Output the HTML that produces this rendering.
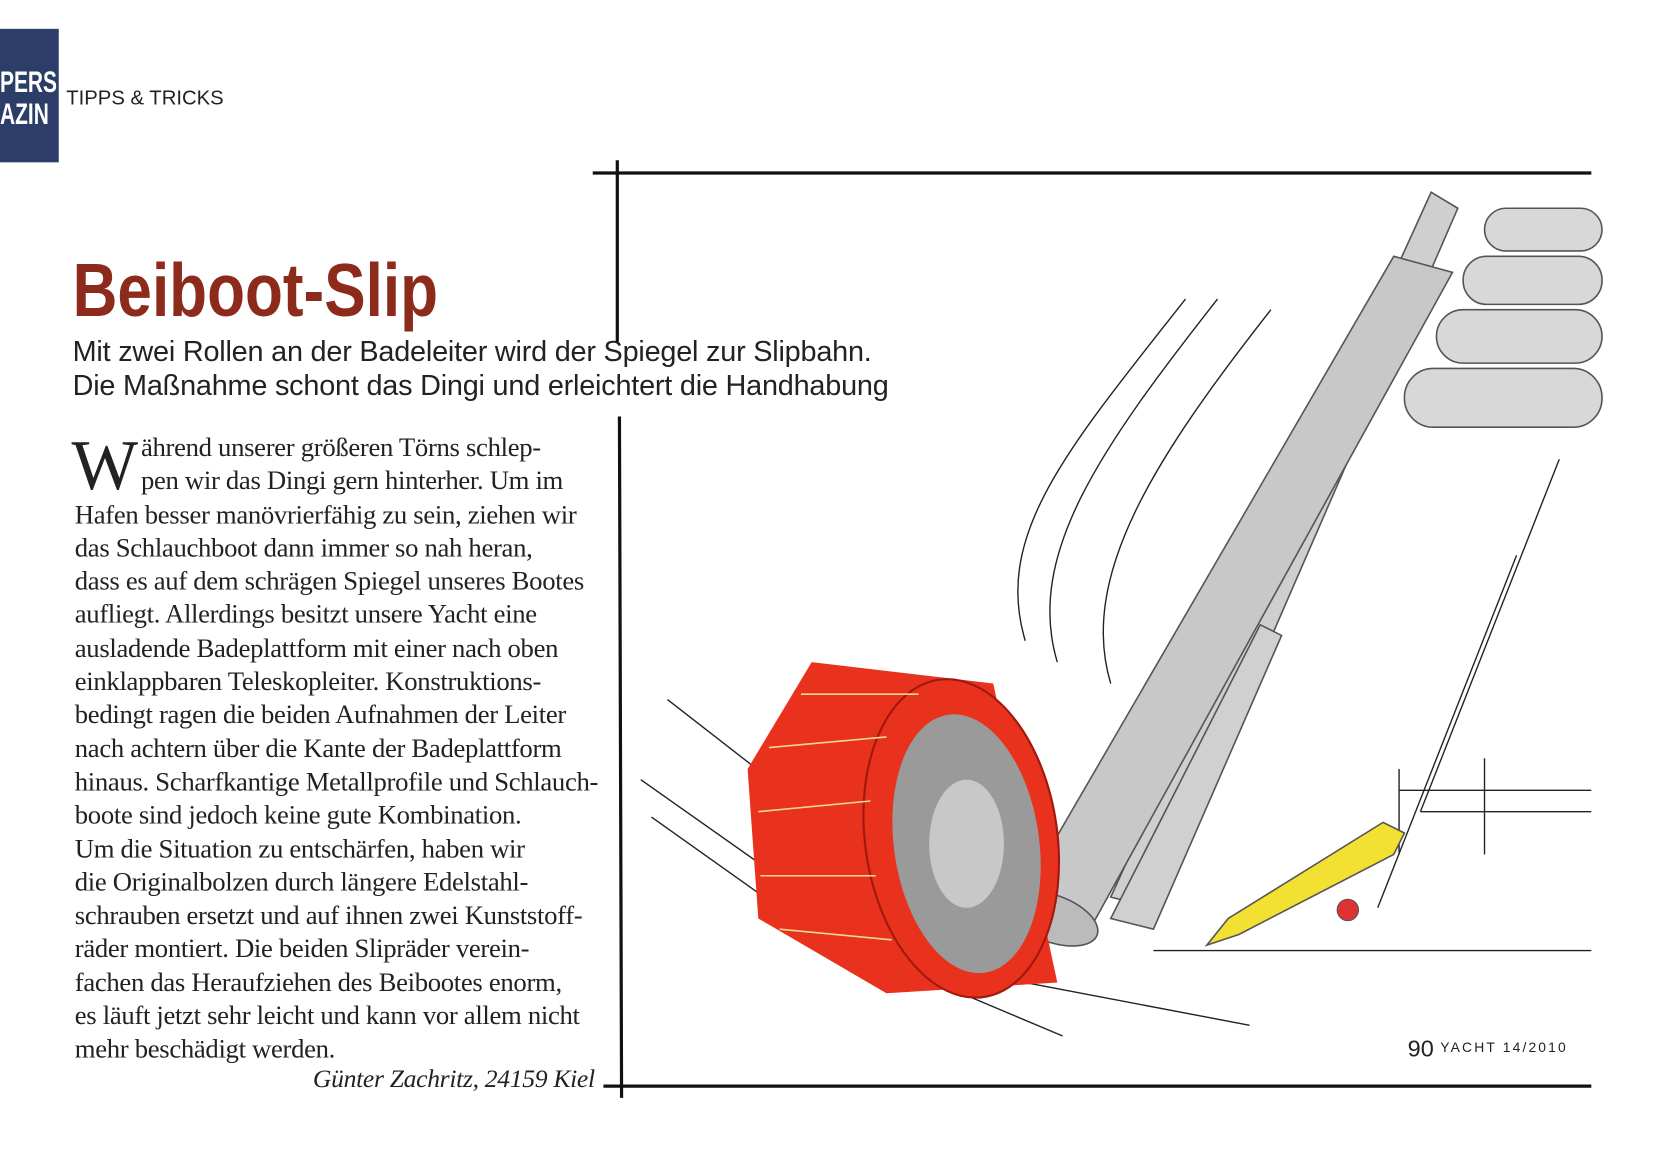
<!DOCTYPE html>
<html><head><meta charset="utf-8"><style>
body{margin:0;width:1674px;height:1175px;overflow:hidden;background:#fff}
#w{position:absolute;left:0;top:0;width:1568px;height:1100px;transform:scale(1.068,1.068);transform-origin:0 0}
.a{position:absolute;white-space:nowrap}
.body{font-family:"Liberation Serif",serif;font-size:25px;color:#222;line-height:31.3px;letter-spacing:-0.3px}
</style></head><body><div id="w">
<div class="a" style="left:0;top:27px;width:55px;height:125px;background:#2c3d68"></div>
<div class="a" style="left:0;top:62px;font:bold 28px/30px 'Liberation Sans Narrow','Liberation Sans',sans-serif;color:#fff;transform:scaleX(.7);transform-origin:0 0">PERS<br>AZIN</div>
<div class="a" style="left:62px;top:82px;font:19px 'Liberation Sans',sans-serif;color:#222">TIPPS &amp; TRICKS</div>
<div class="a" style="left:68px;top:232px;font:bold 70px 'Liberation Sans Narrow','Liberation Sans',sans-serif;color:#8c2a1c;transform:scaleX(.83);transform-origin:0 0">Beiboot-Slip</div>
<div class="a" style="left:68px;top:313px;font:27px/32px 'Liberation Sans',sans-serif;color:#222;letter-spacing:-0.2px">Mit zwei Rollen an der Badeleiter wird der Spiegel zur Slipbahn.<br>Die Maßnahme schont das Dingi und erleichtert die Handhabung</div>
<div class="a" style="left:67px;top:404px;font:66px/66px 'Liberation Serif',serif;color:#222">W</div>
<div class="a body" style="left:70px;top:404px">
<span style="margin-left:62px">ährend unserer größeren Törns schlep-</span><br><span style="margin-left:62px">pen wir das Dingi gern hinterher. Um im</span><br>Hafen besser manövrierfähig zu sein, ziehen wir<br>das Schlauchboot dann immer so nah heran,<br>dass es auf dem schrägen Spiegel unseres Bootes<br>aufliegt. Allerdings besitzt unsere Yacht eine<br>ausladende Badeplattform mit einer nach oben<br>einklappbaren Teleskopleiter. Konstruktions-<br>bedingt ragen die beiden Aufnahmen der Leiter<br>nach achtern über die Kante der Badeplattform<br>hinaus. Scharfkantige Metallprofile und Schlauch-<br>boote sind jedoch keine gute Kombination.<br>Um die Situation zu entschärfen, haben wir<br>die Originalbolzen durch längere Edelstahl-<br>schrauben ersetzt und auf ihnen zwei Kunststoff-<br>räder montiert. Die beiden Slipräder verein-<br>fachen das Heraufziehen des Beibootes enorm,<br>es läuft jetzt sehr leicht und kann vor allem nicht<br>mehr beschädigt werden.</div>
<div class="a" style="left:293px;top:998px;font:italic 24px 'Liberation Serif',serif;color:#222;letter-spacing:-0.3px">Günter Zachritz, 24159 Kiel</div>
<div class="a" style="left:1318px;top:969px;font:22px 'Liberation Sans',sans-serif;color:#222">90 <span style="font-size:13px;letter-spacing:2px;vertical-align:4px">YACHT 14/2010</span></div>
<svg class="a" style="left:0;top:0" width="1568" height="1100">
<g stroke="#111" stroke-width="3" fill="none">
<line x1="555" y1="162" x2="1490" y2="162"/>
<line x1="565" y1="1017" x2="1490" y2="1017"/>
<line x1="578" y1="150" x2="578" y2="320"/>
<line x1="580" y1="390" x2="582" y2="1028"/>
</g>
<g stroke="#222" stroke-width="1.3" fill="none">
<path d="M1110 280 C1000 420 930 500 960 600"/><path d="M1140 280 C1030 420 960 520 990 620"/>
<path d="M1190 290 C1080 430 1010 540 1040 640"/>
<path d="M1460 430 L1330 760"/><path d="M1420 520 L1290 850"/>
<line x1="625" y1="655" x2="760" y2="760"/><line x1="600" y1="730" x2="770" y2="850"/>
<line x1="610" y1="765" x2="800" y2="900"/>
<line x1="900" y1="930" x2="995" y2="970"/><line x1="960" y1="920" x2="1170" y2="960"/>
<line x1="1080" y1="890" x2="1490" y2="890"/>
<path d="M1310 720 L1310 800 M1310 740 L1490 740 M1390 710 L1390 800 M1330 760 L1490 760"/>
</g>
<g stroke="#555" stroke-width="1.5" fill="#d8d8d8">
<rect x="1390" y="195" width="110" height="40" rx="20"/>
<rect x="1370" y="240" width="130" height="45" rx="22"/>
<rect x="1345" y="290" width="155" height="50" rx="25"/>
<rect x="1315" y="345" width="185" height="55" rx="27"/>
<polygon points="1340,180 1365,195 1080,850 1040,840" fill="#cfcfcf"/>
<polygon points="1305,240 1360,255 1015,880 945,860" fill="#c8c8c8"/>
<ellipse cx="985" cy="860" rx="45" ry="22" transform="rotate(20 985 860)" fill="#bbb"/>
<polygon points="1180,585 1200,595 1080,870 1040,860" fill="#d0d0d0"/>
</g>
<g>
<polygon points="760,620 930,640 990,920 830,930 710,860 700,720" fill="#e8321e"/>
<ellipse cx="900" cy="785" rx="90" ry="150" transform="rotate(-8 900 785)" fill="#e8321e" stroke="#a01810" stroke-width="2"/>
<ellipse cx="905" cy="790" rx="68" ry="122" transform="rotate(-8 905 790)" fill="#9a9a9a"/>
<ellipse cx="905" cy="790" rx="35" ry="60" fill="#c8c8c8"/>
<g stroke="#f3d98c" stroke-width="1.5">
<line x1="720" y1="700" x2="830" y2="690"/><line x1="710" y1="760" x2="815" y2="750"/>
<line x1="712" y1="820" x2="820" y2="820"/><line x1="730" y1="870" x2="835" y2="880"/>
<line x1="750" y1="650" x2="860" y2="650"/>
</g>
</g>
<polygon points="1130,885 1150,860 1295,770 1315,780 1305,800 1160,875" fill="#f2e133" stroke="#555" stroke-width="1.5"/>
<circle cx="1262" cy="852" r="10" fill="#d33" stroke="#555"/>
</svg>
</div></body></html>
